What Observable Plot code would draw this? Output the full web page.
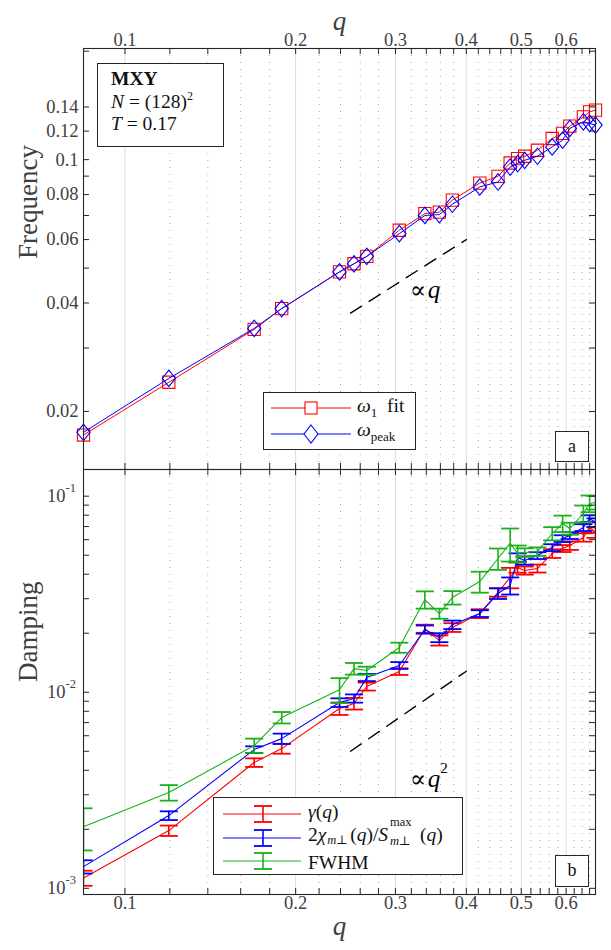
<!DOCTYPE html>
<html><head><meta charset="utf-8">
<script src="https://cdn.jsdelivr.net/npm/d3@7"></script>
<script src="https://cdn.jsdelivr.net/npm/@observablehq/plot@0.6"></script>
<style>
body{margin:0;background:#fff;overflow:hidden;}
#wrap{position:relative;width:611px;height:950px;font-family:"Liberation Serif","DejaVu Serif",serif;color:#262626;}
#wrap > svg{position:absolute;left:0;overflow:visible;}
#wrap svg text{font-family:"Liberation Serif","DejaVu Serif",serif;}
.box{position:absolute;border:1.3px solid #262626;background:#fff;box-sizing:border-box;font-family:"Liberation Serif","DejaVu Serif",serif;}
.box sup{font-size:12px;vertical-align:8px;line-height:0;}
.box sub{font-size:13px;vertical-align:-5px;line-height:0;}
.box sub.m{margin-left:1px;margin-right:2px;font-style:italic;vertical-align:-3px;font-size:12.5px;}
.ss{display:inline-block;position:relative;width:32px;height:10px;}
.ss .a{position:absolute;left:2px;top:-15px;font-size:12.5px;line-height:12px;}
.ss .b{position:absolute;left:2px;top:4px;font-size:12.5px;line-height:12px;white-space:nowrap;font-style:italic;}
</style></head><body><div id="wrap"></div>
<script>
// ---------------- data ----------------
const q = [0.0845, 0.1195, 0.169, 0.189, 0.239, 0.2535, 0.267, 0.3047, 0.338, 0.3585, 0.378, 0.4225,
           0.455, 0.478, 0.4927, 0.507, 0.534, 0.567, 0.5915, 0.609, 0.6435, 0.66, 0.676];
const omegaFit  = [0.0172, 0.0241, 0.0338, 0.0386, 0.0488, 0.0514, 0.0539, 0.0637, 0.0708, 0.0715, 0.0772, 0.0861,
                   0.0899, 0.0979, 0.1007, 0.1022, 0.1062, 0.1145, 0.1183, 0.1239, 0.1315, 0.1357, 0.1372];
const omegaPeak = [0.0175, 0.0247, 0.0340, 0.0386, 0.0488, 0.0514, 0.0539, 0.0623, 0.0700, 0.0704, 0.0752, 0.0840,
                   0.0867, 0.0954, 0.0975, 0.0996, 0.1022, 0.1085, 0.1133, 0.1221, 0.1274, 0.1261, 0.1247];
const gamma    = [0.00113, 0.00197, 0.00438, 0.00516, 0.00826, 0.00876, 0.0107, 0.01275, 0.0211, 0.0184, 0.0214, 0.0252,
                  0.0323, 0.0385, 0.0433, 0.0418, 0.0428, 0.0510, 0.0541, 0.0560, 0.0616, 0.0692, 0.0653];
const gammaErr = [0.0001, 0.00012, 0.00022, 0.0003, 0.0006, 0.0006, 0.0005, 0.0005, 0.001, 0.0011, 0.0011, 0.0013,
                  0.0016, 0.0046, 0.0026, 0.002, 0.002, 0.0026, 0.0022, 0.0028, 0.003, 0.0042, 0.004];
const chiRatio = [0.00129, 0.00235, 0.0051, 0.0058, 0.00886, 0.0093, 0.0119, 0.0137, 0.0209, 0.0190, 0.0221, 0.0252,
                  0.0319, 0.0350, 0.0487, 0.0470, 0.0498, 0.0547, 0.0608, 0.0630, 0.0692, 0.0769, 0.0734];
const chiErr   = [0.0001, 0.00012, 0.0002, 0.00035, 0.00045, 0.00045, 0.0005, 0.00055, 0.001, 0.001, 0.0011, 0.001,
                  0.002, 0.0035, 0.0024, 0.0023, 0.002, 0.0022, 0.0024, 0.0025, 0.0028, 0.003, 0.0037];
const fwhm     = [0.00206, 0.00308, 0.00535, 0.00743, 0.0103, 0.0132, 0.0129, 0.0169, 0.0297, 0.0252, 0.0304, 0.0367,
                  0.0481, 0.0574, 0.0510, 0.0516, 0.0522, 0.0645, 0.0726, 0.0684, 0.0816, 0.0918, 0.0929];
const fwhmErr  = [0.0005, 0.00028, 0.00045, 0.0005, 0.0015, 0.0009, 0.0006, 0.001, 0.003, 0.0015, 0.0024, 0.0045,
                  0.006, 0.011, 0.005, 0.0026, 0.0026, 0.005, 0.007, 0.0048, 0.008, 0.009, 0.0074];
// guide lines (∝ q and ∝ q²)
const guideQ = [0.25, 0.4];
const guideFreq = [0.0375, 0.06];
const guideDamp = [0.005, 0.0128];
// ticks
const xMajorTicks = [0.1, 0.2, 0.3, 0.4, 0.5, 0.6];
const xMinorTicks = [0.12, 0.14, 0.16, 0.18, 0.22, 0.24, 0.26, 0.28, 0.32, 0.34, 0.36, 0.38,
                     0.42, 0.44, 0.46, 0.48, 0.52, 0.54, 0.56, 0.58, 0.62, 0.64, 0.66];
const freqTicks = [0.02, 0.04, 0.06, 0.08, 0.1, 0.12, 0.14];
const freqMinorTicks = [0.03, 0.05, 0.07, 0.09, 0.2];
const dampTicks = [0.001, 0.01, 0.1];
const dampTickExp = ["-3", "-2", "-1"];
const dampMinorTicks = [0.002, 0.003, 0.004, 0.005, 0.006, 0.007, 0.008, 0.009,
                        0.02, 0.03, 0.04, 0.05, 0.06, 0.07, 0.08, 0.09];
const xDomain = [0.0845, 0.676];
const freqDomain = [0.0138, 0.2035];
const dampDomain = [0.00093, 0.1368];

// ---------------- style ----------------
const FONT = '"Liberation Serif","DejaVu Serif",serif';
const AX = "#262626", TXT = "#404040";
const RED = "#ff0000", BLUE = "#0000ff", GREEN = "#19b219";
const W = 611, ML = 83, MR = 16, FW = W - ML - MR;
const T = (o) => Object.assign({fontFamily: FONT}, o);

const diamond = {draw(ctx, size){ const s = Math.sqrt(size), hw = s*0.5, hh = s*0.62;
  ctx.moveTo(0,-hh); ctx.lineTo(hw,0); ctx.lineTo(0,hh); ctx.lineTo(-hw,0); ctx.closePath(); }};
const cap = {draw(ctx, size){ const w = Math.sqrt(size)/2; ctx.moveTo(-w,0); ctx.lineTo(w,0); }};

function frameMarks(FH, yMajor, yMinor) {
  const xAll = xMajorTicks.concat(xMinorTicks);
  const yAll = yMajor.concat(yMinor);
  return [
    Plot.tickX(xAll, {x: d => d, insetTop: FH - 6, stroke: AX}),
    Plot.tickX(xAll, {x: d => d, insetBottom: FH - 6, stroke: AX}),
    Plot.tickY(yAll, {y: d => d, insetRight: FW - 6, stroke: AX}),
    Plot.tickY(yAll, {y: d => d, insetLeft: FW - 6, stroke: AX}),
    Plot.frame({stroke: AX, strokeWidth: 1.1})
  ];
}
function gridMarks() {
  return [
    Plot.ruleX(xMajorTicks, {x: d => d, stroke: "#dcdcdc", strokeWidth: 1}),
    Plot.ruleX(xMinorTicks, {x: d => d, stroke: "#a8a8a8", strokeWidth: 1, strokeDasharray: "1,6"})
  ];
}

// ---------------- top panel ----------------
const freqRows = q.map((d, i) => ({q: d, fit: omegaFit[i], peak: omegaPeak[i]}));
const guideFreqRows = guideQ.map((d, i) => ({q: d, v: guideFreq[i]}));
const TOP_H = 470, TOP_MT = 48, TOP_MB = 1, FH1 = TOP_H - TOP_MT - TOP_MB;
const topChart = Plot.plot({
  width: W, height: TOP_H, marginTop: TOP_MT, marginBottom: TOP_MB, marginLeft: ML, marginRight: MR,
  x: {type: "log", domain: xDomain, axis: null},
  y: {type: "log", domain: freqDomain, axis: null},
  style: {fontFamily: FONT, background: "transparent", overflow: "visible"},
  marks: [
    ...gridMarks(),
    Plot.line(guideFreqRows, {x: "q", y: "v", stroke: "black", strokeWidth: 1.4, strokeDasharray: "13,9"}),
    Plot.text(["\u221D"], T({x: () => 0.318, y: () => 0.0434, fontSize: 24, fill: "black", textAnchor: "start"})),
    Plot.text(["q"], T({x: () => 0.342, y: () => 0.0434, fontSize: 25, fontStyle: "italic", fill: "black", textAnchor: "start"})),
    Plot.line(freqRows, {x: "q", y: "fit", stroke: RED, strokeWidth: 1}),
    Plot.dot(freqRows, {x: "q", y: "fit", symbol: "square", r: 6.9, stroke: RED, fill: "none", strokeWidth: 1.1}),
    Plot.line(freqRows, {x: "q", y: "peak", stroke: BLUE, strokeWidth: 1}),
    Plot.dot(freqRows, {x: "q", y: "peak", symbol: diamond, r: 7.5, stroke: BLUE, fill: "none", strokeWidth: 1.1}),
    ...frameMarks(FH1, freqTicks, freqMinorTicks),
    Plot.text(xMajorTicks, T({x: d => d, text: d => String(d), frameAnchor: "top", dy: -16, fontSize: 18.5, fill: TXT})),
    Plot.text(["q"], T({frameAnchor: "top", dy: -38, fontSize: 27, fontStyle: "italic", fill: TXT})),
    Plot.text(freqTicks, T({y: d => d, text: d => String(d), frameAnchor: "left", textAnchor: "end", dx: -5, fontSize: 18.5, fill: TXT})),
    Plot.text(["Frequency"], T({frameAnchor: "left", rotate: -90, dx: -55, fontSize: 27, fill: TXT}))
  ]
});
topChart.style.top = "0px";

// ---------------- bottom panel ----------------
function errRows(vals, errs) { return q.map((d, i) => ({q: d, v: vals[i], lo: vals[i] - errs[i], hi: vals[i] + errs[i]})); }
const gRows = errRows(gamma, gammaErr), cRows = errRows(chiRatio, chiErr), fRows = errRows(fwhm, fwhmErr);
function seriesMarks(rows, color) {
  return [
    Plot.ruleX(rows, {x: "q", y1: "lo", y2: "hi", stroke: color, strokeWidth: 1.6, clip: true}),
    Plot.dot(rows, {x: "q", y: "lo", symbol: cap, r: 10.2, stroke: color, fill: "none", strokeWidth: 1.8, clip: true}),
    Plot.dot(rows, {x: "q", y: "hi", symbol: cap, r: 10.2, stroke: color, fill: "none", strokeWidth: 1.8, clip: true}),
    Plot.line(rows, {x: "q", y: "v", stroke: color, strokeWidth: 1.1})
  ];
}
const guideDampRows = guideQ.map((d, i) => ({q: d, v: guideDamp[i]}));
const BOT_TOP = 469, BOT_H = 481, BOT_MT = 0, BOT_MB = 56, FH2 = BOT_H - BOT_MT - BOT_MB;
const botChart = Plot.plot({
  width: W, height: BOT_H, marginTop: BOT_MT, marginBottom: BOT_MB, marginLeft: ML, marginRight: MR,
  x: {type: "log", domain: xDomain, axis: null},
  y: {type: "log", domain: dampDomain, axis: null},
  style: {fontFamily: FONT, background: "transparent", overflow: "visible"},
  marks: [
    ...gridMarks(),
    Plot.line(guideDampRows, {x: "q", y: "v", stroke: "black", strokeWidth: 1.4, strokeDasharray: "13,9"}),
    Plot.text(["\u221D"], T({x: () => 0.318, y: () => 0.0036, fontSize: 24, fill: "black", textAnchor: "start"})),
    Plot.text(["q"], T({x: () => 0.342, y: () => 0.0036, fontSize: 25, fontStyle: "italic", fill: "black", textAnchor: "start"})),
    Plot.text(["2"], T({x: () => 0.36, y: () => 0.0036, dy: -11, fontSize: 15, fill: "black", textAnchor: "start"})),
    ...seriesMarks(gRows, RED),
    ...seriesMarks(cRows, BLUE),
    ...seriesMarks(fRows, GREEN),
    ...frameMarks(FH2, dampTicks, dampMinorTicks),
    Plot.text(xMajorTicks, T({x: d => d, text: d => String(d), frameAnchor: "bottom", dy: 14, fontSize: 18.5, fill: TXT})),
    Plot.text(["q"], T({frameAnchor: "bottom", dy: 40, fontSize: 27, fontStyle: "italic", fill: TXT})),
    Plot.text(dampTicks, T({y: d => d, text: () => "10", frameAnchor: "left", textAnchor: "end", dx: -18, fontSize: 18.5, fill: TXT})),
    Plot.text(dampTicks, T({y: d => d, text: (d, i) => dampTickExp[i], frameAnchor: "left", textAnchor: "start", dx: -18, dy: -8, fontSize: 12.5, fill: TXT})),
    Plot.text(["Damping"], T({frameAnchor: "left", rotate: -90, dx: -55, fontSize: 27, fill: TXT}))
  ]
});
botChart.style.top = BOT_TOP + "px";

const wrap = document.getElementById("wrap");
wrap.appendChild(topChart);
wrap.appendChild(botChart);

// ---------------- annotations & legends ----------------
wrap.insertAdjacentHTML("beforeend", `
<div class="box" style="left:97px;top:63px;width:127px;height:84px;padding:4px 0 0 13px;font-size:19.5px;line-height:22.5px;color:#111">
<b>MXY</b><br><i>N</i> = (128)<sup>2</sup><br><i>T</i> = 0.17</div>

<div class="box" style="left:263px;top:392px;width:153px;height:58px;font-size:19.5px;color:#111">
 <svg width="153" height="58" style="position:absolute;left:0;top:0">
  <line x1="7" x2="87" y1="15" y2="15" stroke="${RED}"/>
  <rect x="41" y="9" width="12" height="12" fill="#fff" stroke="${RED}" stroke-width="1.1"/>
  <line x1="7" x2="87" y1="41" y2="41" stroke="${BLUE}"/>
  <path d="M47,32 L54,41 L47,50 L40,41Z" fill="#fff" stroke="${BLUE}" stroke-width="1.1"/>
 </svg>
 <div style="position:absolute;left:93px;top:2px;"><i>ω</i><sub>1</sub>&nbsp; fit</div>
 <div style="position:absolute;left:93px;top:26px;"><i>ω</i><sub>peak</sub></div>
</div>
<div class="box" style="left:555px;top:431px;width:34px;height:31px;font-size:18px;text-align:center;line-height:28px;color:#111">a</div>

<div class="box" style="left:213px;top:797px;width:250px;height:78px;font-size:19.5px;color:#111">
 <svg width="250" height="78" style="position:absolute;left:0;top:0">
  <line x1="9" x2="87" y1="16" y2="16" stroke="${RED}"/>
  <line x1="49" x2="49" y1="8" y2="24" stroke="${RED}" stroke-width="1.6"/>
  <line x1="40" x2="58" y1="8" y2="8" stroke="${RED}" stroke-width="1.8"/>
  <line x1="40" x2="58" y1="24" y2="24" stroke="${RED}" stroke-width="1.8"/>
  <line x1="9" x2="87" y1="40" y2="40" stroke="${BLUE}"/>
  <line x1="49" x2="49" y1="32" y2="48" stroke="${BLUE}" stroke-width="1.6"/>
  <line x1="40" x2="58" y1="32" y2="32" stroke="${BLUE}" stroke-width="1.8"/>
  <line x1="40" x2="58" y1="48" y2="48" stroke="${BLUE}" stroke-width="1.8"/>
  <line x1="9" x2="87" y1="63" y2="63" stroke="${GREEN}"/>
  <line x1="49" x2="49" y1="55" y2="71" stroke="${GREEN}" stroke-width="1.6"/>
  <line x1="40" x2="58" y1="55" y2="55" stroke="${GREEN}" stroke-width="1.8"/>
  <line x1="40" x2="58" y1="71" y2="71" stroke="${GREEN}" stroke-width="1.8"/>
 </svg>
 <div style="position:absolute;left:94px;top:3px;"><i>γ</i>(<i>q</i>)</div>
 <div style="position:absolute;left:94px;top:26px;white-space:nowrap">2<i>χ</i><sub class="m">m⊥</sub>(<i>q</i>)/<i>S</i><span class="ss"><span class="a">max</span><span class="b">m⊥</span></span>(<i>q</i>)</div>
 <div style="position:absolute;left:94px;top:56px;line-height:17px;">FWHM</div>
</div>
<div class="box" style="left:555px;top:855px;width:34px;height:32px;font-size:18px;text-align:center;line-height:29px;color:#111">b</div>
`);
</script></body></html>
